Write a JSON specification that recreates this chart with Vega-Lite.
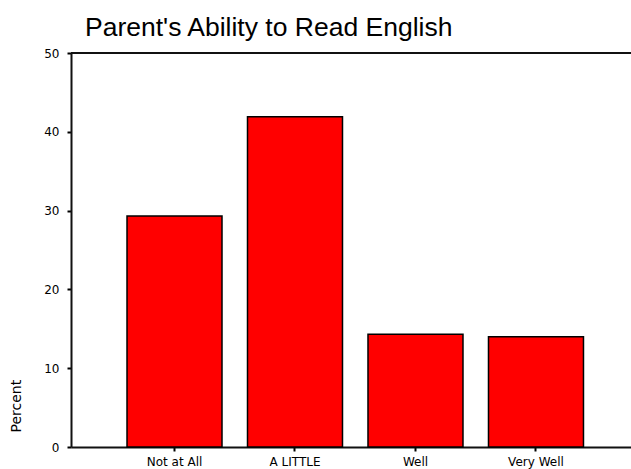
{
  "$schema": "https://vega.github.io/schema/vega-lite/v6.json",
  "width": 560,
  "height": 394,
  "autosize": {"type": "none"},
  "padding": {"left": 71, "top": 53, "right": 0, "bottom": 22},
  "background": "white",
  "config": {"view": {"stroke": null}},
  "title": {
    "text": "Parent's Ability to Read English",
    "anchor": "start",
    "frame": "group",
    "dx": 14,
    "offset": 6,
    "font": "Liberation Sans",
    "fontSize": 26.5,
    "fontWeight": "normal",
    "color": "#000000"
  },
  "data": {
    "values": [
      {"level": "Not at All", "percent": 29.3},
      {"level": "A LITTLE", "percent": 41.9},
      {"level": "Well", "percent": 14.3},
      {"level": "Very Well", "percent": 14.0}
    ]
  },
  "layer": [
    {
      "mark": {"type": "bar", "color": "#ff0000", "stroke": "#000000", "strokeWidth": 1.5},
      "encoding": {
        "x": {
          "field": "level",
          "type": "nominal",
          "sort": ["Not at All", "A LITTLE", "Well", "Very Well"],
          "scale": {"paddingInner": 0.2116, "paddingOuter": 0.4296, "align": 0.541},
          "axis": {
            "title": null,
            "labelAngle": 0,
            "labelFont": "DejaVu Sans",
            "labelFontSize": 12,
            "labelColor": "#000000",
            "labelPadding": 5,
            "domainColor": "#111111",
            "domainWidth": 2,
            "tickColor": "#000000",
            "tickWidth": 2,
            "tickSize": 4,
            "grid": false
          }
        },
        "y": {
          "field": "percent",
          "type": "quantitative",
          "scale": {"domain": [0, 50], "nice": false},
          "axis": {
            "title": "Percent",
            "titleAnchor": "start",
            "titleY": 379,
            "titleFont": "DejaVu Sans",
            "titleFontSize": 14,
            "titleFontWeight": "normal",
            "titleColor": "#000000",
            "titlePadding": 20,
            "values": [0, 10, 20, 30, 40, 50],
            "labelFont": "DejaVu Sans",
            "labelFontSize": 12,
            "labelColor": "#000000",
            "labelPadding": 8,
            "domainColor": "#111111",
            "domainWidth": 2,
            "tickColor": "#000000",
            "tickWidth": 2,
            "tickSize": 4,
            "grid": false
          }
        }
      }
    },
    {
      "mark": {"type": "rule", "color": "#111111", "strokeWidth": 2},
      "encoding": {"y": {"datum": 50}}
    }
  ]
}
